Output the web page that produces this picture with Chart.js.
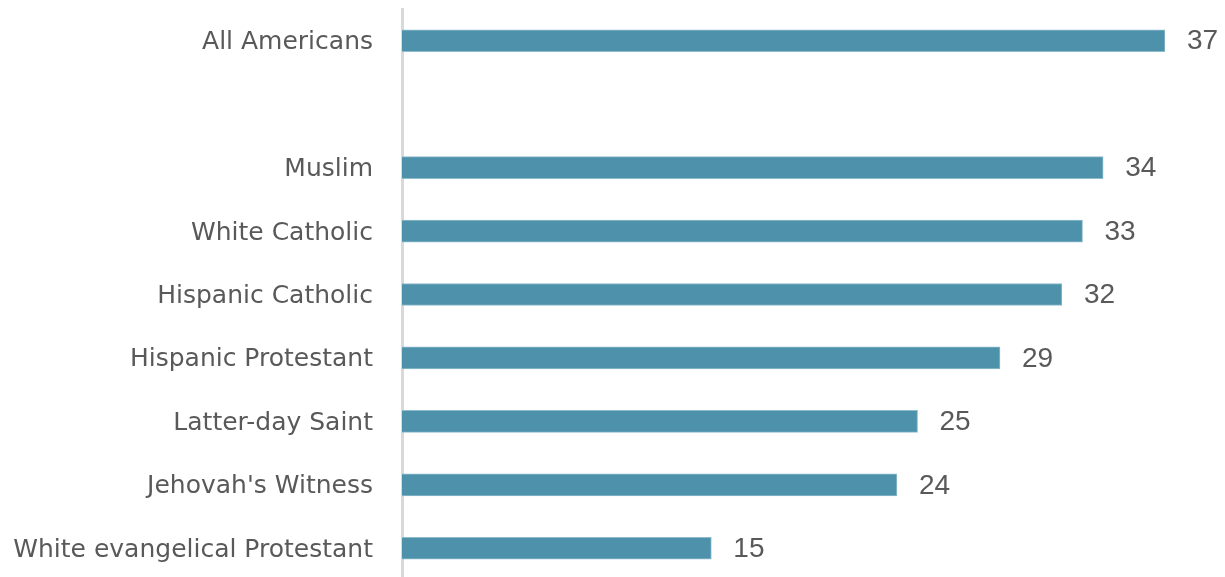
<!DOCTYPE html>
<html>
<head>
<meta charset="utf-8">
<script src="https://cdn.jsdelivr.net/npm/chart.js@4/dist/chart.umd.min.js"></script>
<style>
html,body{margin:0;padding:0;background:#fff;overflow:hidden;}
#wrap{position:absolute;left:0;top:0;width:1225px;height:580px;}
</style>
</head>
<body>
<div id="wrap"><canvas id="c" width="1225" height="580"></canvas></div>
<script>
const categories = ["All Americans", "", "Muslim", "White Catholic", "Hispanic Catholic", "Hispanic Protestant", "Latter-day Saint", "Jehovah's Witness", "White evangelical Protestant"];
const values = [37, null, 34, 33, 32, 29, 25, 24, 15];

const textPlugin = {
  id: 'textPlugin',
  afterDatasetsDraw(chart) {
    const ctx = chart.ctx;
    const meta = chart.getDatasetMeta(0);
    const yScale = chart.scales.y;
    ctx.save();
    // category labels
    ctx.font = '25px "DejaVu Sans", sans-serif';
    ctx.fillStyle = '#595959';
    ctx.textAlign = 'right';
    ctx.textBaseline = 'middle';
    categories.forEach((lab, i) => {
      if (!lab) return;
      ctx.fillText(lab, chart.chartArea.left - 29, yScale.getPixelForValue(i) + 2);
    });
    // value labels
    ctx.font = '28px "Liberation Sans", Arial, sans-serif';
    ctx.textAlign = 'left';
    meta.data.forEach((bar, i) => {
      const v = values[i];
      if (v === null || v === undefined) return;
      ctx.fillText(String(v), bar.x + 22, bar.y + 1);
    });
    ctx.restore();
  }
};

new Chart(document.getElementById('c'), {
  type: 'bar',
  data: {
    labels: categories,
    datasets: [{
      data: values,
      backgroundColor: '#4e91ab',
      borderColor: '#8fbccd',
      borderWidth: 1,
      barThickness: 22
    }]
  },
  options: {
    indexAxis: 'y',
    responsive: false,
    animation: false,
    layout: { padding: { top: 9, right: 60, bottom: 0, left: 0 } },
    plugins: { legend: { display: false }, tooltip: { enabled: false } },
    scales: {
      x: {
        display: false,
        min: 0,
        max: 37
      },
      y: {
        grid: { display: false, drawTicks: false },
        border: { display: true, color: '#d9d9d9', width: 3 },
        ticks: { display: false },
        afterFit(scale) { scale.width = 402; }
      }
    }
  },
  plugins: [textPlugin]
});
</script>
</body>
</html>
